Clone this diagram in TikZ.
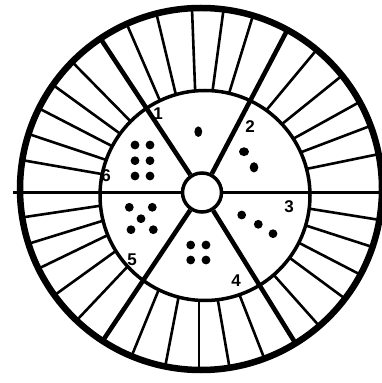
\documentclass[tikz,border=0pt]{standalone}
\usepackage{fontspec}
\setmainfont{Liberation Sans}
\usepackage{tikz}
\usetikzlibrary{shapes.geometric, positioning}
\tikzstyle{rim}     = [line width=6.5pt]
\tikzstyle{ring}    = [line width=3.5pt, fill=white]
\tikzstyle{axle}    = [line width=3.5pt]
\tikzstyle{spoke}   = [line width=4.6pt]
\tikzstyle{tick}    = [line width=2.6pt]
\tikzstyle{hubnode} = [draw, circle, line width=3.5pt, fill=white, minimum size=39pt, inner sep=0pt]
\tikzstyle{pip}     = [fill, ellipse, inner sep=0pt, minimum width=8.8pt, minimum height=8.8pt]
\tikzstyle{num}     = [inner sep=0pt, font=\fontsize{17}{17}\selectfont\bfseries]

\begin{document}
\begin{tikzpicture}[x=1pt,y=1pt]
\useasboundingbox (0,0) rectangle (382,383);

\coordinate (rimc)  at (201,194);
\coordinate (ringc) at (205,187.5);
\coordinate (tickc) at (199,192);
\coordinate (west)  at (13,190.5);
\coordinate (east)  at (392,190.5);

% thin ticks between ring and rim
\begin{scope}
\clip (rimc) circle (181);
\foreach \a in {113.4,103.5,92.2,82.3,72.9,
                50.2,38.9,29,20.8,11.6,
                350.9,342.1,332.6,323.6,311.7,
                291.3,279.8,270,259.1,247.8,
                226.6,215.8,205.8,197.2,188.5,
                170.1,161.5,152.7,144,134.5}
  \draw[tick] (tickc) -- ++(\a:220);
\end{scope}

\draw[ring] (ringc) circle (105);

\node[hubnode] (hub) at (202,190.5) {};

% spokes
\begin{scope}
\clip (rimc) circle (181);
\foreach \a in {123.4,62.3,236.2,301.8}
  \draw[spoke] (hub) -- ++(\a:220);
\end{scope}
\draw[axle] (west) -- (hub);
\draw[axle] (hub) -- (east);

\draw[rim] (rimc) circle (181);

% numbers
\node[num] (n1) at (158,269) {1};
\node[num] (n2) at (250,256) {2};
\node[num] (n3) at (289,176) {3};
\node[num] (n4) at (236,102) {4};
\node[num] (n5) at (132,123) {5};
\node[num] (n6) at (106,207) {6};

% pips
\node[pip,minimum width=7.8pt,minimum height=10.6pt] (p1a) at (198.3,251.3) {};

\node[pip,minimum width=10pt,minimum height=8.8pt] (p2a) at (244,231.3) {};
\node[pip,minimum width=8.6pt,minimum height=10.2pt] (p2b) at (254,215.7) {};

\node[pip] (p3a) at (241.7,168) {};
\node[pip] (p3b) at (258.3,158.7) {};
\node[pip] (p3c) at (273,149.3) {};

\node[pip] (p4a) at (190.7,138) {};
\node[pip] (p4b) at (206,138) {};
\node[pip] (p4c) at (190.7,123) {};
\node[pip] (p4d) at (206,123) {};

\node[pip] (p5a) at (129.3,175.7) {};
\node[pip] (p5b) at (152.3,175.7) {};
\node[pip] (p5c) at (141,164.3) {};
\node[pip] (p5d) at (131,153.3) {};
\node[pip] (p5e) at (153.3,153.3) {};

\node[pip] (p6a) at (135,238) {};
\node[pip] (p6b) at (150,238) {};
\node[pip] (p6c) at (135,222.3) {};
\node[pip] (p6d) at (150,222.3) {};
\node[pip] (p6e) at (135,207) {};
\node[pip] (p6f) at (150,207) {};

\end{tikzpicture}
\end{document}
